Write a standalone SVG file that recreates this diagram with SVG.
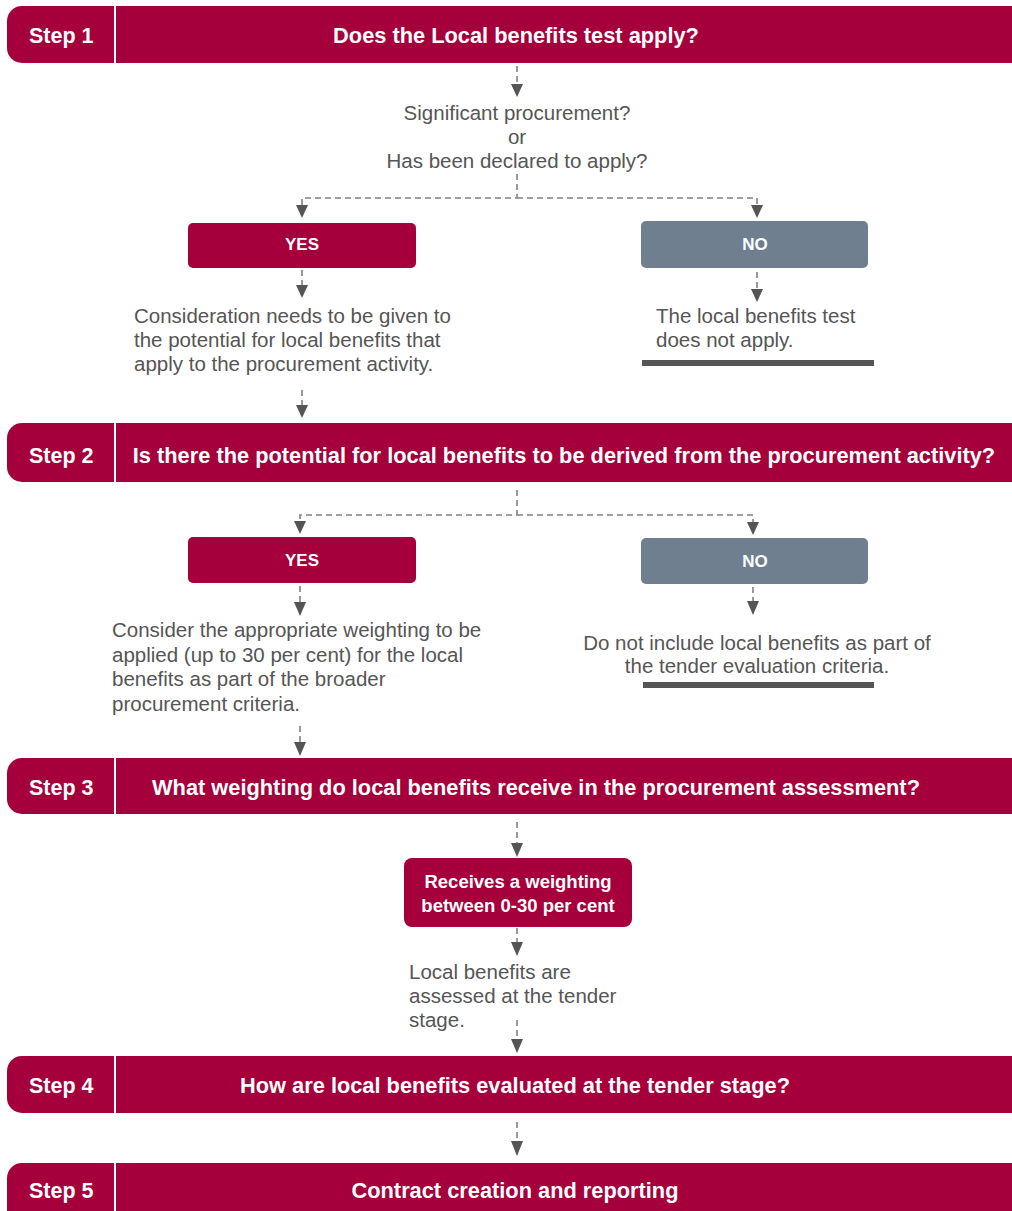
<svg xmlns="http://www.w3.org/2000/svg" width="1012" height="1211" viewBox="0 0 1012 1211">
<defs>
<style>
.bar{fill:#A5003C}
.div{stroke:#ffffff;stroke-width:2}
.step{font-family:"Liberation Sans",Arial,sans-serif;font-weight:bold;font-size:21.5px;fill:#ffffff}
.title{font-family:"Liberation Sans",Arial,sans-serif;font-weight:bold;font-size:21.8px;fill:#ffffff;text-anchor:middle}
.yes{fill:#A5003C}
.no{fill:#6F7F90}
.btxt{font-family:"Liberation Sans",Arial,sans-serif;font-weight:bold;font-size:17px;fill:#ffffff;text-anchor:middle}
.rtxt{font-family:"Liberation Sans",Arial,sans-serif;font-weight:bold;font-size:18.5px;fill:#ffffff;text-anchor:middle}
.body{font-family:"Liberation Sans",Arial,sans-serif;font-size:20.5px;fill:#555555}
.ctr{text-anchor:middle}
.dash{fill:none;stroke:#808080;stroke-width:1.6;stroke-dasharray:6 4}
.head{fill:#555555}
.rule{fill:#555555}
</style>
</defs>

<g id="step1">
<rect class="bar" x="7" y="6" width="1030" height="57" rx="15"/>
<line class="div" x1="115" y1="6" x2="115" y2="63"/>
<text class="step" x="29" y="43">Step 1</text>
<text class="title" x="516" y="43">Does the Local benefits test apply?</text>
</g>

<g id="q1">
<text class="body ctr" x="517" y="120">Significant procurement?</text>
<text class="body ctr" x="517" y="144">or</text>
<text class="body ctr" x="517" y="168">Has been declared to apply?</text>
</g>

<g id="yes1">
<rect class="yes" x="188" y="223" width="228" height="45" rx="5"/>
<text class="btxt" x="302" y="250">YES</text>
</g>

<g id="no1">
<rect class="no" x="641" y="221" width="227" height="47" rx="5"/>
<text class="btxt" x="755" y="250">NO</text>
</g>

<g id="yes1text">
<text class="body" x="134" y="323">Consideration needs to be given to</text>
<text class="body" x="134" y="347">the potential for local benefits that</text>
<text class="body" x="134" y="371">apply to the procurement activity.</text>
</g>

<g id="no1text">
<text class="body" x="656" y="323">The local benefits test</text>
<text class="body" x="656" y="347">does not apply.</text>
<rect class="rule" x="642" y="360" width="232" height="6"/>
</g>

<g id="step2">
<rect class="bar" x="7" y="423" width="1030" height="59" rx="15"/>
<line class="div" x1="115" y1="423" x2="115" y2="482"/>
<text class="step" x="29" y="463">Step 2</text>
<text class="title" x="564" y="463">Is there the potential for local benefits to be derived from the procurement activity?</text>
</g>

<g id="yes2">
<rect class="yes" x="188" y="537" width="228" height="46" rx="5"/>
<text class="btxt" x="302" y="566">YES</text>
</g>

<g id="no2">
<rect class="no" x="641" y="538" width="227" height="46" rx="5"/>
<text class="btxt" x="755" y="567">NO</text>
</g>

<g id="yes2text">
<text class="body" x="112" y="637">Consider the appropriate weighting to be</text>
<text class="body" x="112" y="661.5">applied (up to 30 per cent) for the local</text>
<text class="body" x="112" y="686">benefits as part of the broader</text>
<text class="body" x="112" y="710.5">procurement criteria.</text>
</g>

<g id="no2text">
<text class="body ctr" x="757" y="650">Do not include local benefits as part of</text>
<text class="body ctr" x="757" y="673">the tender evaluation criteria.</text>
<rect class="rule" x="643" y="682" width="231" height="6"/>
</g>

<g id="step3">
<rect class="bar" x="7" y="758" width="1030" height="56" rx="15"/>
<line class="div" x1="115" y1="758" x2="115" y2="814"/>
<text class="step" x="29" y="795">Step 3</text>
<text class="title" x="536" y="795">What weighting do local benefits receive in the procurement assessment?</text>
</g>

<g id="receives">
<rect class="yes" x="404" y="858" width="228" height="69" rx="8"/>
<text class="rtxt" x="518" y="888">Receives a weighting</text>
<text class="rtxt" x="518" y="912">between 0-30 per cent</text>
</g>

<g id="receivestext">
<text class="body" x="409" y="979">Local benefits are</text>
<text class="body" x="409" y="1003">assessed at the tender</text>
<text class="body" x="409" y="1027">stage.</text>
</g>

<g id="step4">
<rect class="bar" x="7" y="1056" width="1030" height="57" rx="15"/>
<line class="div" x1="115" y1="1056" x2="115" y2="1113"/>
<text class="step" x="29" y="1093">Step 4</text>
<text class="title" x="515" y="1093">How are local benefits evaluated at the tender stage?</text>
</g>

<g id="step5">
<rect class="bar" x="7" y="1163" width="1030" height="70" rx="15"/>
<line class="div" x1="115" y1="1163" x2="115" y2="1211"/>
<text class="step" x="29" y="1198">Step 5</text>
<text class="title" x="515" y="1198">Contract creation and reporting</text>
</g>

<g id="connectors">
<path class="dash" d="M517 66 V85"/>
<polygon class="head" points="511,84 523,84 517,97"/>
<path class="dash" d="M517 174 V198 H302 V205 M517 198 H757 V205"/>
<polygon class="head" points="296,205 308,205 302,218"/>
<polygon class="head" points="751,205 763,205 757,218"/>
<path class="dash" d="M302 270 V286"/>
<polygon class="head" points="296,285 308,285 302,298"/>
<path class="dash" d="M757 272 V290"/>
<polygon class="head" points="751,289 763,289 757,302"/>
<path class="dash" d="M302 390 V406"/>
<polygon class="head" points="296,405 308,405 302,418"/>
<path class="dash" d="M517 490 V515 H300 V522 M517 515 H753 V523"/>
<polygon class="head" points="294,521 306,521 300,534"/>
<polygon class="head" points="747,522 759,522 753,535"/>
<path class="dash" d="M300 586 V603"/>
<polygon class="head" points="294,602 306,602 300,616"/>
<path class="dash" d="M753 587 V602"/>
<polygon class="head" points="747,601 759,601 753,615"/>
<path class="dash" d="M300 726 V743"/>
<polygon class="head" points="294,742 306,742 300,756"/>
<path class="dash" d="M517 822 V844"/>
<polygon class="head" points="511,843 523,843 517,857"/>
<path class="dash" d="M517 928 V943"/>
<polygon class="head" points="511,942 523,942 517,956"/>
<path class="dash" d="M517 1020 V1040"/>
<polygon class="head" points="511,1039 523,1039 517,1053"/>
<path class="dash" d="M517 1122 V1142"/>
<polygon class="head" points="511,1141 523,1141 517,1156"/>
</g>
</svg>
